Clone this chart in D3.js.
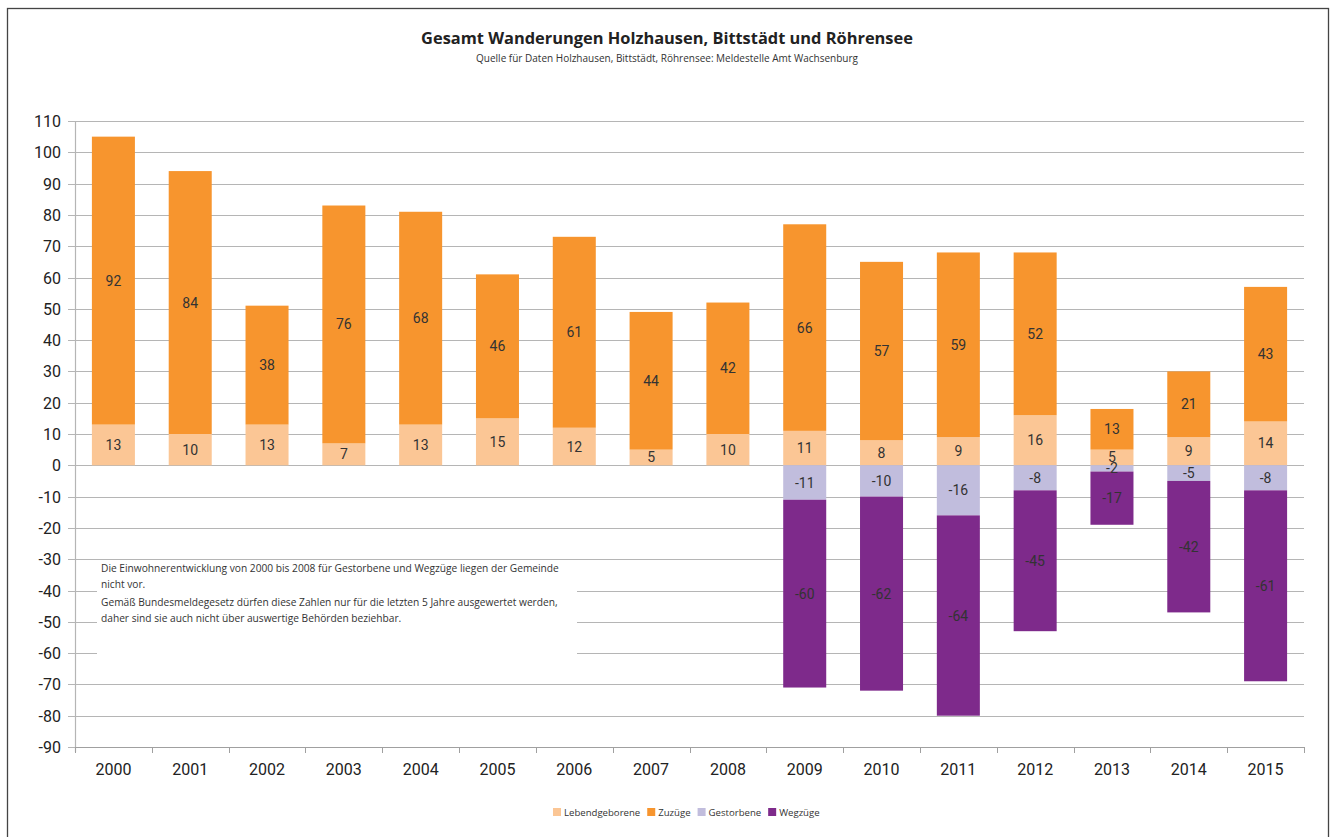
<!DOCTYPE html>
<html>
<head>
<meta charset="utf-8">
<script src="https://cdn.jsdelivr.net/npm/d3@7"></script>
<style>
  body { margin: 0; background: #fff; }
  svg { display: block; }
</style>
</head>
<body>
<svg id="chart" width="1333" height="837"></svg>
<script>
var years = ['2000', '2001', '2002', '2003', '2004', '2005', '2006', '2007',
  '2008', '2009', '2010', '2011', '2012', '2013', '2014', '2015'];
var lebendgeborene = [13, 10, 13, 7, 13, 15, 12, 5, 10, 11, 8, 9, 16, 5, 9, 14];
var zuzuege = [92, 84, 38, 76, 68, 46, 61, 44, 42, 66, 57, 59, 52, 13, 21, 43];
// Gestorbene / Wegzüge liegen erst ab 2009 vor
var gestorbene = [null, null, null, null, null, null, null, null, null, -11, -10, -16, -8, -2, -5, -8];
var wegzuege = [null, null, null, null, null, null, null, null, null, -60, -62, -64, -45, -17, -42, -61];
var yTicks = [110, 100, 90, 80, 70, 60, 50, 40, 30, 20, 10, 0, -10, -20, -30, -40, -50, -60, -70, -80, -90];

var seriesNames = ['Lebendgeborene', 'Zuzüge', 'Gestorbene', 'Wegzüge'];
var seriesColors = ['#fbc695', '#f7952e', '#c1bddd', '#7e2a8b'];
var noteLines = [
  'Die Einwohnerentwicklung von 2000 bis 2008 für Gestorbene und Wegzüge liegen der Gemeinde',
  'nicht vor.',
  'Gemäß Bundesmeldegesetz dürfen diese Zahlen nur für die letzten 5 Jahre ausgewertet werden,',
  'daher sind sie auch nicht über auswertige Behörden beziehbar.'
];

var svg = d3.select('#chart');
var font = 'Roboto, "Open Sans", sans-serif';
var margin = { left: 75, right: 29, top: 121, bottom: 90 };

// Rahmen
svg.append('rect')
  .attr('x', 7.5).attr('y', 8.5)
  .attr('width', 1321).attr('height', 840)
  .attr('fill', 'none').attr('stroke', '#444').attr('stroke-width', 1.3);

svg.append('text')
  .attr('x', 667).attr('y', 44)
  .attr('text-anchor', 'middle')
  .attr('font-family', '"Open Sans", sans-serif')
  .attr('font-weight', 'bold')
  .attr('font-size', 16.4)
  .attr('fill', '#222')
  .text('Gesamt Wanderungen Holzhausen, Bittstädt und Röhrensee');

svg.append('text')
  .attr('x', 667).attr('y', 62)
  .attr('text-anchor', 'middle')
  .attr('font-family', '"Open Sans", sans-serif')
  .attr('font-size', 10)
  .attr('fill', '#333')
  .text('Quelle für Daten Holzhausen, Bittstädt, Röhrensee: Meldestelle Amt Wachsenburg');

var x = d3.scaleBand()
  .domain(years)
  .range([margin.left, 1304])
  .paddingInner(0.44)
  .paddingOuter(0.22);

var xOuter = d3.scaleBand().domain(years).range([margin.left, 1304]);

var y = d3.scaleLinear().domain([-90, 110]).range([747, 121]);

// Gitterlinien
svg.append('g').selectAll('line')
  .data(yTicks)
  .enter().append('line')
  .attr('x1', margin.left - 7).attr('x2', 1304)
  .attr('y1', function (d) { return Math.round(y(d)) + 0.5; })
  .attr('y2', function (d) { return Math.round(y(d)) + 0.5; })
  .attr('stroke', '#b5b5b5').attr('stroke-width', 1.2);

svg.append('g').selectAll('text')
  .data(yTicks)
  .enter().append('text')
  .attr('x', 61)
  .attr('y', function (d) { return y(d) + 6; })
  .attr('text-anchor', 'end')
  .attr('font-family', font)
  .attr('font-size', 16)
  .attr('fill', '#222')
  .text(function (d) { return d; });

// Balken stapeln
var stacks = years.map(function (yr, i) {
  var parts = [];
  var pos = 0, neg = 0;
  [lebendgeborene[i], zuzuege[i], gestorbene[i], wegzuege[i]].forEach(function (v, s) {
    if (v === null) return;
    if (v >= 0) { parts.push({ year: yr, s: s, v: v, y0: pos, y1: pos + v }); pos += v; }
    else { parts.push({ year: yr, s: s, v: v, y0: neg, y1: neg + v }); neg += v; }
  });
  return parts;
});
var segs = [].concat.apply([], stacks);

svg.append('g').selectAll('rect')
  .data(segs)
  .enter().append('rect')
  .attr('x', function (d) { return x(d.year); })
  .attr('width', x.bandwidth())
  .attr('y', function (d) { return y(Math.max(d.y0, d.y1)); })
  .attr('height', function (d) { return Math.abs(y(d.y0) - y(d.y1)); })
  .attr('fill', function (d) { return seriesColors[d.s]; });

svg.append('g').selectAll('text')
  .data(segs)
  .enter().append('text')
  .attr('x', function (d) { return x(d.year) + x.bandwidth() / 2; })
  .attr('y', function (d) { return y((d.y0 + d.y1) / 2) + 5; })
  .attr('text-anchor', 'middle')
  .attr('font-family', font)
  .attr('font-size', 14)
  .attr('fill', '#333')
  .text(function (d) { return d.v; });

// Achsen
svg.append('line')
  .attr('x1', margin.left + 0.5).attr('x2', margin.left + 0.5)
  .attr('y1', 121).attr('y2', 752)
  .attr('stroke', '#b5b5b5').attr('stroke-width', 1.2);

svg.append('line')
  .attr('x1', margin.left).attr('x2', 1304)
  .attr('y1', 747.5).attr('y2', 747.5)
  .attr('stroke', '#a0a0a0').attr('stroke-width', 1.2);

svg.append('g').selectAll('line')
  .data(years.concat(['end']))
  .enter().append('line')
  .attr('x1', function (d, i) { return Math.round(margin.left + i * xOuter.step()) + 0.5; })
  .attr('x2', function (d, i) { return Math.round(margin.left + i * xOuter.step()) + 0.5; })
  .attr('y1', 747).attr('y2', 753)
  .attr('stroke', '#a0a0a0');

svg.append('g').selectAll('text')
  .data(years)
  .enter().append('text')
  .attr('x', function (d) { return xOuter(d) + xOuter.bandwidth() / 2; })
  .attr('y', 775)
  .attr('text-anchor', 'middle')
  .attr('font-family', font)
  .attr('font-size', 16)
  .attr('fill', '#222')
  .text(function (d) { return d; });

// Hinweis
svg.append('rect')
  .attr('x', 97).attr('y', 561)
  .attr('width', 480).attr('height', 94)
  .attr('fill', '#fff');

svg.append('g').selectAll('text')
  .data(noteLines)
  .enter().append('text')
  .attr('x', 101)
  .attr('y', function (d, i) { return 572 + i * 16 + (i > 1 ? 2 : 0); })
  .attr('font-family', '"Open Sans", sans-serif')
  .attr('font-size', 10.2)
  .attr('fill', '#333')
  .text(function (d) { return d; });

// Legende
var legend = svg.append('g').attr('transform', 'translate(553,806)');
var lx = 0;
seriesNames.forEach(function (name, i) {
  var g = legend.append('g').attr('transform', 'translate(' + lx + ',0)');
  g.append('rect').attr('width', 8).attr('height', 8).attr('y', 2)
    .attr('fill', seriesColors[i]);
  var t = g.append('text')
    .attr('x', 11).attr('y', 10)
    .attr('font-family', '"Open Sans", sans-serif')
    .attr('font-size', 9.6)
    .attr('fill', '#333')
    .text(name);
  lx += 11 + t.node().getComputedTextLength() + 7;
});
</script>
</body>
</html>
